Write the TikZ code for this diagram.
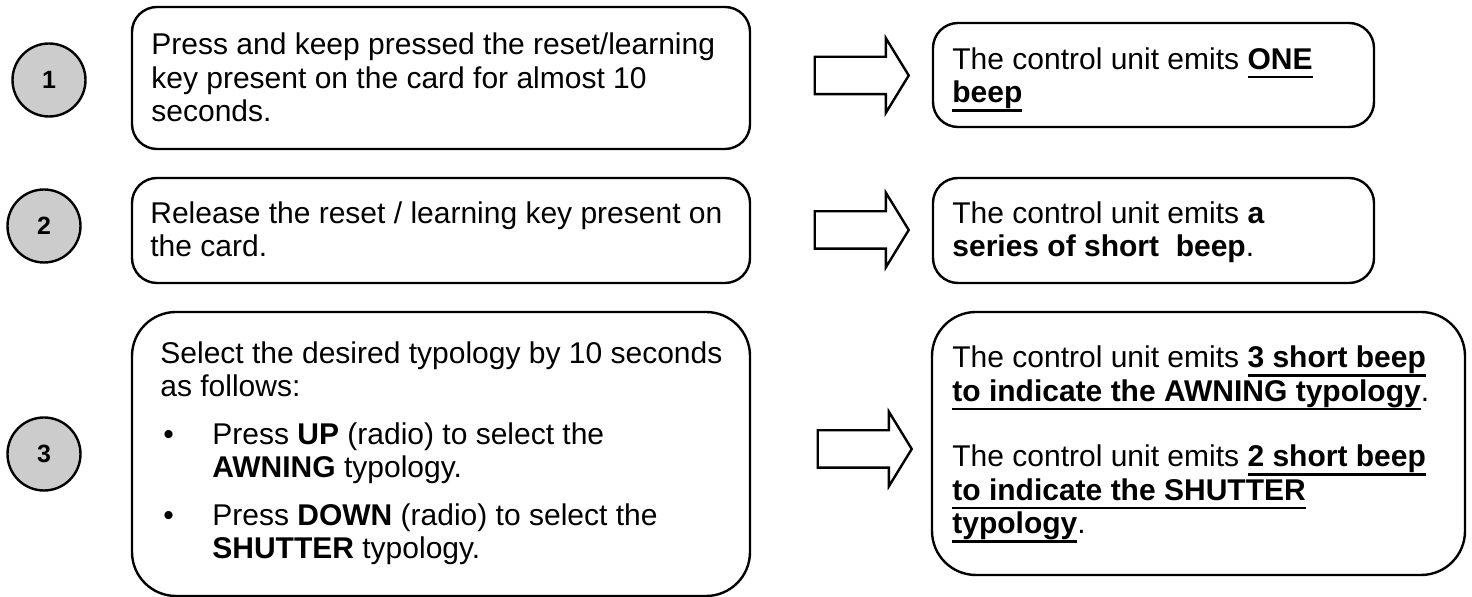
\documentclass[tikz,border=0pt]{standalone}
\usepackage{fontspec}
\setmainfont{Liberation Sans}
\usetikzlibrary{shapes, positioning}
\newcommand{\ulbf}[1]{\setbox0\hbox{\bfseries #1}\rlap{\rule[-4.4pt]{\wd0}{1.3pt}}\box0}
\tikzset{basic/.style={draw, line width=1.2pt}}
\tikzset{stepno/.style={basic, circle, fill=black!20, minimum size=36.5pt, inner sep=0pt, font=\fontsize{12.5}{14}\selectfont\bfseries}}
\tikzset{panel/.style={basic, rectangle, rounded corners=12.5pt, inner sep=0pt}}
\tikzset{bigpanel/.style={panel, rounded corners=22pt}}
% anchored on the baseline of the last line
\tikzset{txt/.style={anchor=base west, align=left, inner sep=0pt, font=\fontsize{15}{16.75}\selectfont}}
\tikzset{goes/.style={basic, single arrow, single arrow head extend=9.25pt, single arrow tip angle=117, minimum height=47pt, inner xsep=0pt, inner ysep=8.75pt}}

\begin{document}
\begin{tikzpicture}[x=0.5pt, y=-0.5pt]
    \useasboundingbox (0,0) rectangle (1472,597);

    % steps
    \node[stepno] (s1) at (49,80) {1};
    \node[stepno] (s2) at (44,226) {2};
    \node[stepno] (s3) at (44,454) {3};

    % what to do
    \node[panel, minimum width=309pt, minimum height=71pt] (b1) at (441,78) {};
    \node[panel, minimum width=309pt, minimum height=52.5pt] (b2) at (441,230.5) {};
    \node[bigpanel, minimum width=309pt, minimum height=142pt] (b3) at (441,454) {};

    \node[txt] (t1) at (151,122) {Press and keep pressed the reset/learning\\
        key present on the card for almost 10\\
        seconds.};
    \node[txt] (t2) at (150,257) {Release the reset / learning key present on\\
        the card.};
    \node[txt] (t3) at (160,559) {Select the desired typology by 10 seconds\\
        as follows:\\[7pt]
        \hspace*{1.5pt}\makebox[24.5pt][l]{\textbullet}Press \textbf{UP} (radio) to select the\\
        \hspace*{26pt}\textbf{AWNING} typology.\\[7pt]
        \hspace*{1.5pt}\makebox[24.5pt][l]{\textbullet}Press \textbf{DOWN} (radio) to select the\\
        \hspace*{26pt}\textbf{SHUTTER} typology.};

    % arrows
    \node[goes] (a1) at (856,75.5) {};
    \node[goes] (a2) at (856,230) {};
    \node[goes] (a3) at (859,449) {};

    % what happens
    \node[panel, minimum width=220.5pt, minimum height=52pt] (r1) at (1153.5,75) {};
    \node[panel, minimum width=220.5pt, minimum height=52.5pt] (r2) at (1153.5,230.5) {};
    \node[bigpanel, minimum width=266.5pt, minimum height=131.5pt] (r3) at (1198.5,443.5) {};

    \node[txt] (u1) at (952,103) {The control unit emits \ulbf{ONE}\\
        \ulbf{beep}};
    \node[txt] (u2) at (952,257) {The control unit emits \textbf{a}\\
        \textbf{series of short\ \ beep}.};
    \node[txt] (u3) at (952,534) {The control unit emits \ulbf{3 short beep}\\
        \ulbf{to indicate the AWNING typology}.\\[16pt]
        The control unit emits \ulbf{2 short beep}\\
        \ulbf{to indicate the SHUTTER}\\
        \ulbf{typology}.};

\end{tikzpicture}
\end{document}
